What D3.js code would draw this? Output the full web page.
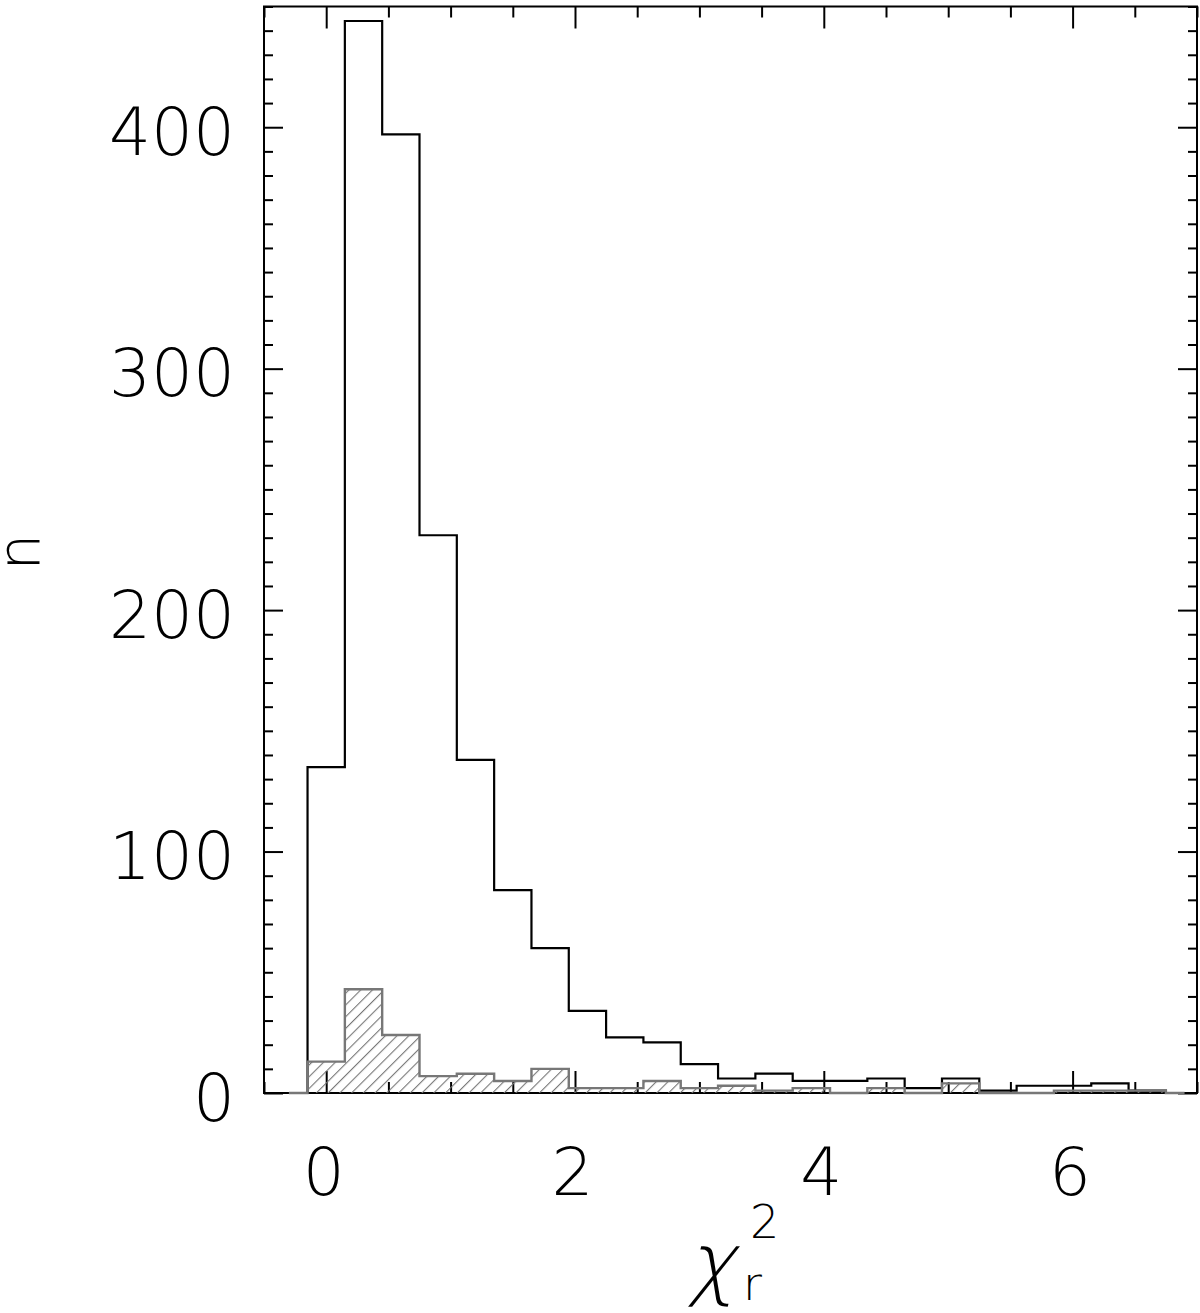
<!DOCTYPE html>
<html>
<head>
<meta charset="utf-8">
<script src="https://cdn.jsdelivr.net/npm/d3@7"></script>
<style>
  html, body { margin: 0; padding: 0; background: #fff; }
  svg { display: block; }
  .lbl { font-family: "DejaVu Sans", sans-serif; font-weight: 200; fill: #000; }
</style>
</head>
<body>
<svg id="chart" width="1200" height="1313"></svg>
<script>
// ---- data ----
const binCenters   = [-0.3, 0.0, 0.3, 0.6, 0.9, 1.2, 1.5, 1.8, 2.1, 2.4, 2.7, 3.0, 3.3, 3.6, 3.9, 4.2, 4.5, 4.8, 5.1, 5.4, 5.7, 6.0, 6.3, 6.6, 6.9, 7.2];
const allCounts    = [0, 135, 444, 397, 231, 138, 84, 60, 34, 23, 21, 12, 6, 8, 5, 5, 6, 2, 6, 1, 3, 3, 4, 1, 0, 0];
const subsetCounts = [0, 13, 43, 24, 7, 8, 5, 10, 2, 2, 5, 2, 3, 1, 2, 0, 2, 0, 4, 0, 0, 1, 1, 1, 0, 0];
const xMajorTicks = [0, 2, 4, 6];
const xMinorTicks = [-0.5, 0.5, 1, 1.5, 2.5, 3, 3.5, 4.5, 5, 5.5, 6.5, 7];
const yMajorTicks = [0, 100, 200, 300, 400];
const yMinorTicks = [10,20,30,40,50,60,70,80,90,110,120,130,140,150,160,170,180,190,210,220,230,240,250,260,270,280,290,310,320,330,340,350,360,370,380,390,410,420,430,440,450];
const xDomain = [-0.5, 7];
const yDomain = [0, 450];

// ---- layout ----
const L = 264, R = 1197, T = 6.5, B = 1093;
const svg = d3.select("#chart");
const x = d3.scaleLinear().domain(xDomain).range([L, R]);
const y = d3.scaleLinear().domain(yDomain).range([B, T]);

const defs = svg.append("defs");
defs.append("clipPath").attr("id", "plotclip")
  .append("rect").attr("x", L).attr("y", T).attr("width", R - L).attr("height", B - T);
const pat = defs.append("pattern").attr("id", "hatch")
  .attr("patternUnits", "userSpaceOnUse")
  .attr("width", 8.3).attr("height", 8.3)
  .attr("patternTransform", "rotate(45)");
pat.append("line").attr("x1", 0).attr("y1", 0).attr("x2", 0).attr("y2", 8.3)
  .attr("stroke", "#777").attr("stroke-width", 2.2);

// ---- axes ----
function styleAxis(g) {
  g.select(".domain").remove();
  g.selectAll(".tick line").attr("stroke", "#000").attr("stroke-width", 2);
}
// bottom
svg.append("g").attr("transform", `translate(0,${B})`)
  .call(d3.axisBottom(x).tickValues(xMinorTicks).tickSize(-11).tickFormat(""))
  .call(styleAxis);
const xb = svg.append("g").attr("transform", `translate(0,${B})`)
  .call(d3.axisBottom(x).tickValues(xMajorTicks).tickSize(-22).tickPadding(100).tickFormat(d3.format("d")))
  .call(styleAxis);
xb.selectAll(".tick text").attr("class", "lbl").attr("font-size", 66)
  .attr("dy", 0).attr("y", 102).attr("dx", -3);
// top
svg.append("g").attr("transform", `translate(0,${T})`)
  .call(d3.axisTop(x).tickValues(xMinorTicks).tickSize(-11).tickFormat(""))
  .call(styleAxis);
svg.append("g").attr("transform", `translate(0,${T})`)
  .call(d3.axisTop(x).tickValues(xMajorTicks).tickSize(-22).tickFormat(""))
  .call(styleAxis);
// left
svg.append("g").attr("transform", `translate(${L},0)`)
  .call(d3.axisLeft(y).tickValues(yMinorTicks).tickSize(-9).tickFormat(""))
  .call(styleAxis);
const yl = svg.append("g").attr("transform", `translate(${L},0)`)
  .call(d3.axisLeft(y).tickValues(yMajorTicks).tickSize(-19).tickPadding(29).tickFormat(d3.format("d")))
  .call(styleAxis);
yl.selectAll(".tick text").attr("class", "lbl").attr("font-size", 66)
  .attr("dy", 0).attr("y", 27).attr("x", -29);
// right
svg.append("g").attr("transform", `translate(${R},0)`)
  .call(d3.axisRight(y).tickValues(yMinorTicks).tickSize(-9).tickFormat(""))
  .call(styleAxis);
svg.append("g").attr("transform", `translate(${R},0)`)
  .call(d3.axisRight(y).tickValues(yMajorTicks).tickSize(-19).tickFormat(""))
  .call(styleAxis);

// frame
svg.append("rect").attr("x", L).attr("y", T).attr("width", R - L).attr("height", B - T)
  .attr("fill", "none").attr("stroke", "#000").attr("stroke-width", 2);

// ---- histograms ----
const plot = svg.append("g").attr("clip-path", "url(#plotclip)");
const allData = binCenters.map((c, i) => ({c, v: allCounts[i]}));
const subData = binCenters.map((c, i) => ({c, v: subsetCounts[i]}));
const line = d3.line().x(d => x(d.c)).y(d => y(d.v)).curve(d3.curveStep);
const area = d3.area().x(d => x(d.c)).y0(y(0)).y1(d => y(d.v)).curve(d3.curveStep);

plot.append("path").datum(allData).attr("d", line)
  .attr("fill", "none").attr("stroke", "#000").attr("stroke-width", 2.2);
plot.append("path").datum(subData).attr("d", area)
  .attr("fill", "url(#hatch)").attr("stroke", "none");
svg.append("path").datum(subData.filter(d => d.c <= 7)).attr("d", line)
  .attr("fill", "none").attr("stroke", "#777").attr("stroke-width", 2.4);

// ---- axis titles ----
svg.append("text").attr("class", "lbl").attr("font-size", 58)
  .attr("transform", "translate(40,552) rotate(-90)")
  .attr("text-anchor", "middle").text("n");

svg.append("text").attr("class", "lbl")
  .attr("transform", "translate(688,1290) skewX(-14)")
  .attr("font-size", 80).text("χ");
svg.append("text").attr("class", "lbl").attr("x", 750).attr("y", 1238).attr("font-size", 46).text("2");
svg.append("text").attr("class", "lbl").attr("x", 743).attr("y", 1300).attr("font-size", 46).text("r");
</script>
</body>
</html>
